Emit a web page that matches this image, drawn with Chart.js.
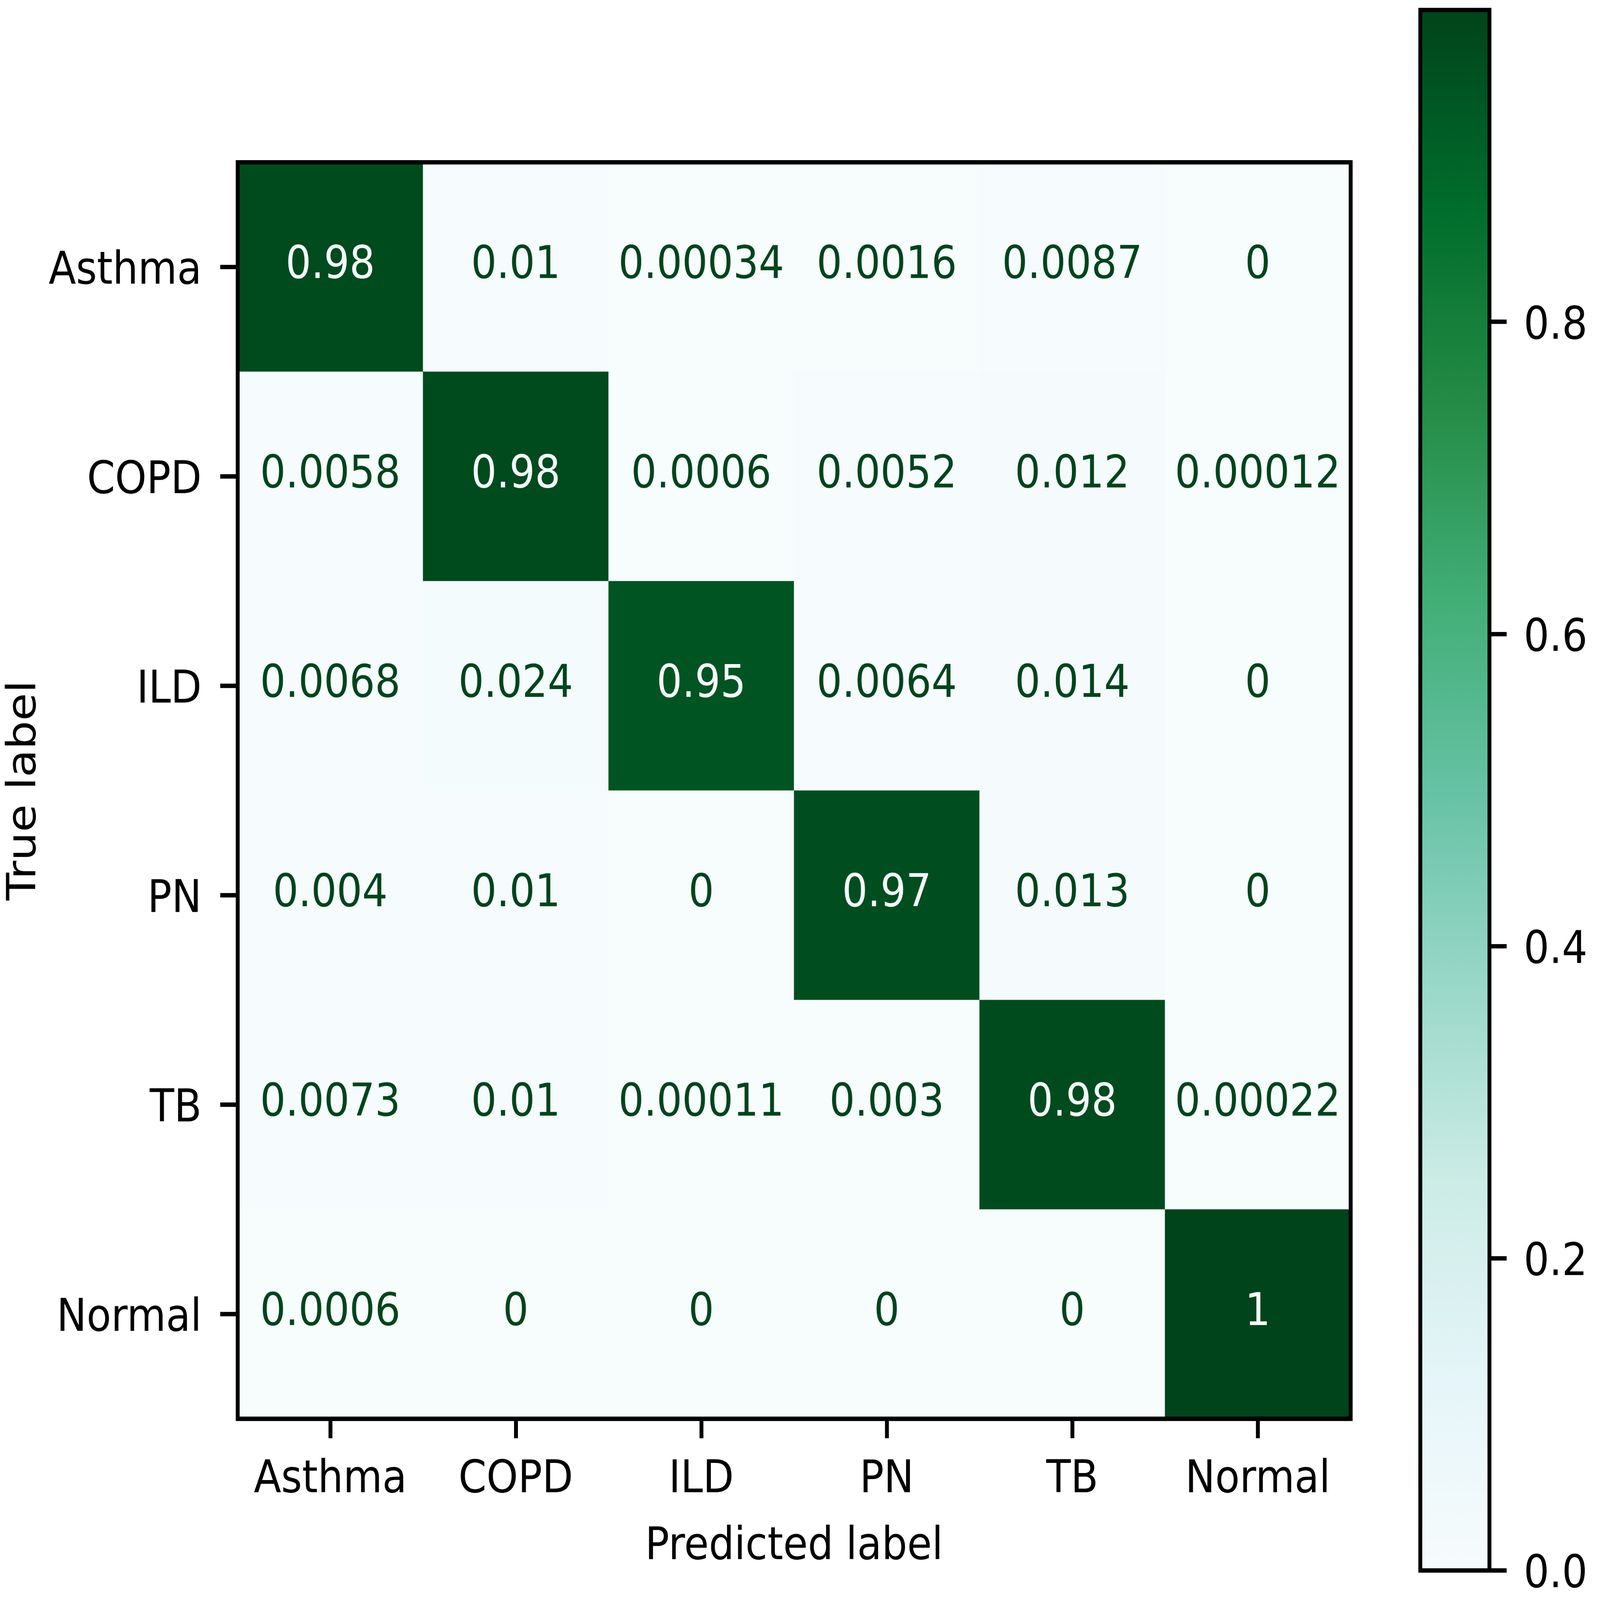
<!DOCTYPE html>
<html>
<head>
<meta charset="utf-8">
<script src="https://cdn.jsdelivr.net/npm/chart.js@4.4.1/dist/chart.umd.min.js"></script>
<style>
  html, body { margin: 0; padding: 0; background: #fff; overflow: hidden; }
  /* the drawing is made at 5348x4737 and stretched to whatever window we get */
  canvas { position: absolute; left: 0; top: 0; width: 100vw !important; height: 100vh !important; }
</style>
</head>
<body>
<canvas id="cm" width="5348" height="4737"></canvas>
<canvas id="cbar" width="5348" height="4737"></canvas>
<script>
const classes = ['Asthma', 'COPD', 'ILD', 'PN', 'TB', 'Normal'];

// normalised confusion matrix, one row per true label
const rowAsthma = [0.98, 0.01, 0.00034, 0.0016, 0.0087, 0];
const rowCOPD   = [0.0058, 0.98, 0.0006, 0.0052, 0.012, 0.00012];
const rowILD    = [0.0068, 0.024, 0.95, 0.0064, 0.014, 0];
const rowPN     = [0.004, 0.01, 0, 0.97, 0.013, 0];
const rowTB     = [0.0073, 0.01, 0.00011, 0.003, 0.98, 0.00022];
const rowNormal = [0.0006, 0, 0, 0, 0, 1];
const matrix = [rowAsthma, rowCOPD, rowILD, rowPN, rowTB, rowNormal];

const colorbarTicks = [0.0, 0.2, 0.4, 0.6, 0.8];

const W = 5348, H = 4737;
const box = { left: 794, right: 4514, top: 480, bottom: 4200 };   // heatmap axes
const cbBox = { left: 4747, right: 4978, top: 29, bottom: 4649 }; // colorbar axes

const FONT = { family: "'DejaVu Sans', sans-serif", size: 134 };
const LINE = 13, TICK = 58;
const LABEL_DROP = 15; // canvas 'middle' sits a bit high for DejaVu

// matplotlib BuGn
const bugn = ['#f7fcfd', '#e5f5f9', '#ccece6', '#99d8c9', '#66c2a4', '#41ae76', '#238b45', '#006d2c', '#00441b'];

function hexToRgb(h) {
    const n = parseInt(h.slice(1), 16);
    return [(n >> 16) & 255, (n >> 8) & 255, n & 255];
}

function cmap(t) {
    t = Math.min(1, Math.max(0, t));
    const pos = t * (bugn.length - 1);
    const i = Math.min(bugn.length - 2, Math.floor(pos));
    const f = pos - i;
    const a = hexToRgb(bugn[i]), b = hexToRgb(bugn[i + 1]);
    const c = a.map((v, k) => Math.round(v + (b[k] - v) * f));
    return `rgb(${c[0]},${c[1]},${c[2]})`;
}

const allVals = matrix.flat();
const vmin = Math.min(...allVals), vmax = Math.max(...allVals);
const thresh = (vmin + vmax) / 2;
const norm = v => (v - vmin) / (vmax - vmin);
const fmt = v => String(Number(v.toPrecision(2))); // like '.2g'

const axisBorder = { display: true, width: LINE, color: '#000', z: 1 };
const tickGrid = {
    display: true, drawOnChartArea: false, drawTicks: true,
    tickLength: TICK, tickWidth: LINE, lineWidth: LINE, color: '#000'
};
const noGrid = { display: false, lineWidth: LINE };

// keep the layout from growing the plot margins for tick label overflow
const noLabelPadding = s => { s.paddingTop = 0; s.paddingBottom = 0; s.paddingLeft = 0; s.paddingRight = 0; };

const cellText = {
    id: 'cellText',
    afterDatasetsDraw(chart) {
        const { ctx, scales: { x, y } } = chart;
        ctx.save();
        ctx.font = `${FONT.size}px ${FONT.family}`;
        ctx.textAlign = 'center';
        ctx.textBaseline = 'middle';
        matrix.forEach((row, r) => row.forEach((v, c) => {
            ctx.fillStyle = v < thresh ? cmap(1) : cmap(0);
            ctx.fillText(fmt(v), x.getPixelForValue(c), y.getPixelForValue(r) - 2);
        }));
        ctx.restore();
    }
};

new Chart(document.getElementById('cm'), {
    type: 'bar',
    data: {
        labels: classes,
        datasets: matrix.map((row, r) => ({
            label: classes[r],
            data: row.map(() => [r - 0.5, r + 0.5]),
            backgroundColor: row.map(v => cmap(norm(v))),
            borderWidth: 0,
            grouped: false,
            categoryPercentage: 1,
            barPercentage: 1
        }))
    },
    options: {
        responsive: false,
        animation: false,
        devicePixelRatio: 1,
        layout: { padding: 0, autoPadding: false },
        plugins: { legend: { display: false }, tooltip: { enabled: false } },
        scales: {
            x: {
                type: 'category', position: 'bottom', offset: true,
                grid: { ...tickGrid, offset: false },
                border: axisBorder,
                ticks: { color: '#000', font: FONT, padding: 45, maxRotation: 0, autoSkip: false },
                title: {
                    display: true, text: 'Predicted label', color: '#000',
                    font: { ...FONT, lineHeight: 1 }, padding: { top: 0, bottom: 89 }
                },
                afterFit: s => { noLabelPadding(s); s.height = H - box.bottom; }
            },
            x2: {
                type: 'category', position: 'top', offset: true,
                grid: noGrid, border: axisBorder, ticks: { display: false },
                afterFit: s => { noLabelPadding(s); s.height = box.top; }
            },
            y: {
                type: 'linear', position: 'left', min: -0.5, max: 5.5, reverse: true,
                grid: tickGrid,
                border: axisBorder,
                afterBuildTicks: s => { s.ticks = classes.map((_, i) => ({ value: i })); },
                ticks: { color: '#000', font: FONT, padding: 62, labelOffset: LABEL_DROP, callback: v => classes[v] },
                title: {
                    display: true, text: 'True label', color: '#000',
                    font: { ...FONT, lineHeight: 1 }, padding: { top: 16, bottom: 0 }
                },
                afterFit: s => { noLabelPadding(s); s.width = box.left; }
            },
            y2: {
                type: 'linear', position: 'right', min: -0.5, max: 5.5,
                grid: noGrid, border: axisBorder, ticks: { display: false },
                afterFit: s => { noLabelPadding(s); s.width = W - box.right; }
            }
        }
    },
    plugins: [cellText]
});

function gradientFill(context) {
    const chart = context.chart;
    const y = chart.scales.y;
    if (!chart.chartArea || !y) return bugn[0];
    const g = chart.ctx.createLinearGradient(0, y.getPixelForValue(vmin), 0, y.getPixelForValue(vmax));
    bugn.forEach((c, i) => g.addColorStop(i / (bugn.length - 1), c));
    return g;
}

new Chart(document.getElementById('cbar'), {
    type: 'bar',
    data: {
        labels: ['colorbar'],
        datasets: [{
            data: [[vmin, vmax]],
            backgroundColor: gradientFill,
            borderWidth: 0,
            categoryPercentage: 1,
            barPercentage: 1
        }]
    },
    options: {
        responsive: false,
        animation: false,
        devicePixelRatio: 1,
        layout: { padding: 0, autoPadding: false },
        plugins: { legend: { display: false }, tooltip: { enabled: false } },
        scales: {
            x: {
                type: 'category', position: 'bottom',
                grid: noGrid, border: axisBorder, ticks: { display: false },
                afterFit: s => { noLabelPadding(s); s.height = H - cbBox.bottom; }
            },
            xt: {
                type: 'category', position: 'top',
                grid: noGrid, border: axisBorder, ticks: { display: false },
                afterFit: s => { noLabelPadding(s); s.height = cbBox.top; }
            },
            yl: {
                type: 'linear', position: 'left',
                grid: noGrid, border: axisBorder, ticks: { display: false },
                afterFit: s => { noLabelPadding(s); s.width = cbBox.left; }
            },
            y: {
                type: 'linear', position: 'right', min: vmin, max: vmax,
                grid: tickGrid,
                border: axisBorder,
                afterBuildTicks: s => { s.ticks = colorbarTicks.map(v => ({ value: v })); },
                ticks: { color: '#000', font: FONT, padding: 57, labelOffset: LABEL_DROP, callback: v => v.toFixed(1) },
                afterFit: s => { noLabelPadding(s); s.width = W - cbBox.right; }
            }
        }
    }
});
</script>
</body>
</html>
